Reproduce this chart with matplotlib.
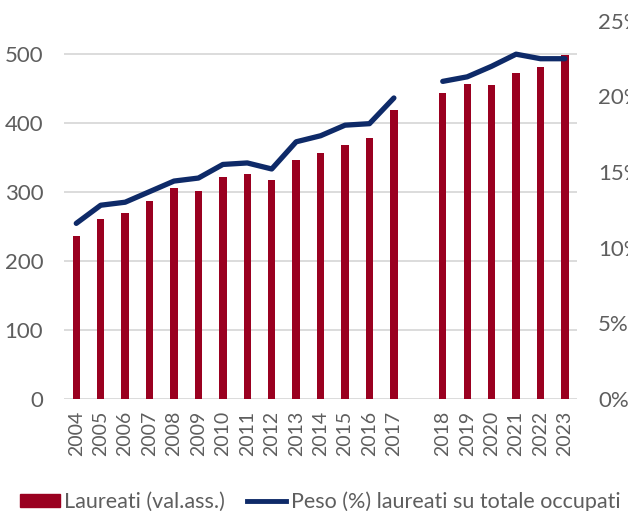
import numpy as np
import matplotlib.pyplot as plt
from matplotlib.patches import Patch
from matplotlib.lines import Line2D

plt.rcParams['font.family'] = ['Lato', 'DejaVu Sans']

anni = ['2004', '2005', '2006', '2007', '2008', '2009', '2010', '2011', '2012',
        '2013', '2014', '2015', '2016', '2017',
        '2018', '2019', '2020', '2021', '2022', '2023']
laureati = [236, 260, 269, 287, 305, 301, 321, 326, 317,
            346, 357, 368, 378, 419,
            444, 456, 455, 472, 481, 499]
peso = [11.6, 12.8, 13.0, 13.7, 14.4, 14.6, 15.5, 15.6, 15.2,
        17.0, 17.4, 18.1, 18.2, 19.9,
        21.0, 21.3, 22.0, 22.8, 22.5, 22.5]

rosso = '#9A0020'
blu = '#0E2A68'
grigio = '#5E5E5E'

# posizioni: uno spazio vuoto tra 2017 e 2018
pos = np.array([i if i < 14 else i + 1 for i in range(len(anni))])

fig = plt.figure(figsize=(6.28, 5.11), dpi=100)
ax = fig.add_axes([0.102, 0.220, 0.817, 0.739])
ax2 = ax.twinx()

ax.bar(pos, laureati, width=0.3, color=rosso, zorder=3)
ax.set_xlim(-0.5, 20.5)
ax.set_ylim(0, 548)
ax.set_yticks([0, 100, 200, 300, 400, 500])
ax.yaxis.grid(True, color='#D9D9D9', linewidth=1.3, zorder=0)
ax.set_axisbelow(True)
ax.set_xticks(pos)
ax.set_xticklabels(anni, rotation=90)
ax.tick_params(axis='x', length=0, pad=9, labelsize=14, labelcolor=grigio)
ax.tick_params(axis='y', length=0, pad=15, labelsize=16, labelcolor=grigio)
for s in ax.spines.values():
    s.set_visible(False)
for s in ax2.spines.values():
    s.set_visible(False)

# linea spezzata tra 2017 e 2018
ax2.plot(pos[:14], np.array(peso[:14]) / 100, color=blu, linewidth=3.8,
         solid_capstyle='round', solid_joinstyle='round', zorder=4)
ax2.plot(pos[14:], np.array(peso[14:]) / 100, color=blu, linewidth=3.8,
         solid_capstyle='round', solid_joinstyle='round', zorder=4)
ax2.set_ylim(0, 0.25)
ax2.set_yticks([0, 0.05, 0.10, 0.15, 0.20, 0.25])
ax2.set_yticklabels(['0%', '5%', '10%', '15%', '20%', '25%'])
ax2.tick_params(axis='y', length=0, pad=15, labelsize=16, labelcolor=grigio)

handles = [Patch(color=rosso), Line2D([], [], color=blu, linewidth=3.5)]
labels = ['Laureati (val.ass.)', 'Peso (%) laureati su totale occupati']
fig.legend(handles, labels, loc='center left', bbox_to_anchor=(0.032, 0.018),
           ncol=2, frameon=False, fontsize=15.5, labelcolor=grigio,
           handlelength=1.85, handleheight=0.6, handletextpad=0.2,
           columnspacing=1.0, borderpad=0, borderaxespad=0)

fig.savefig('out.png', dpi=100)
